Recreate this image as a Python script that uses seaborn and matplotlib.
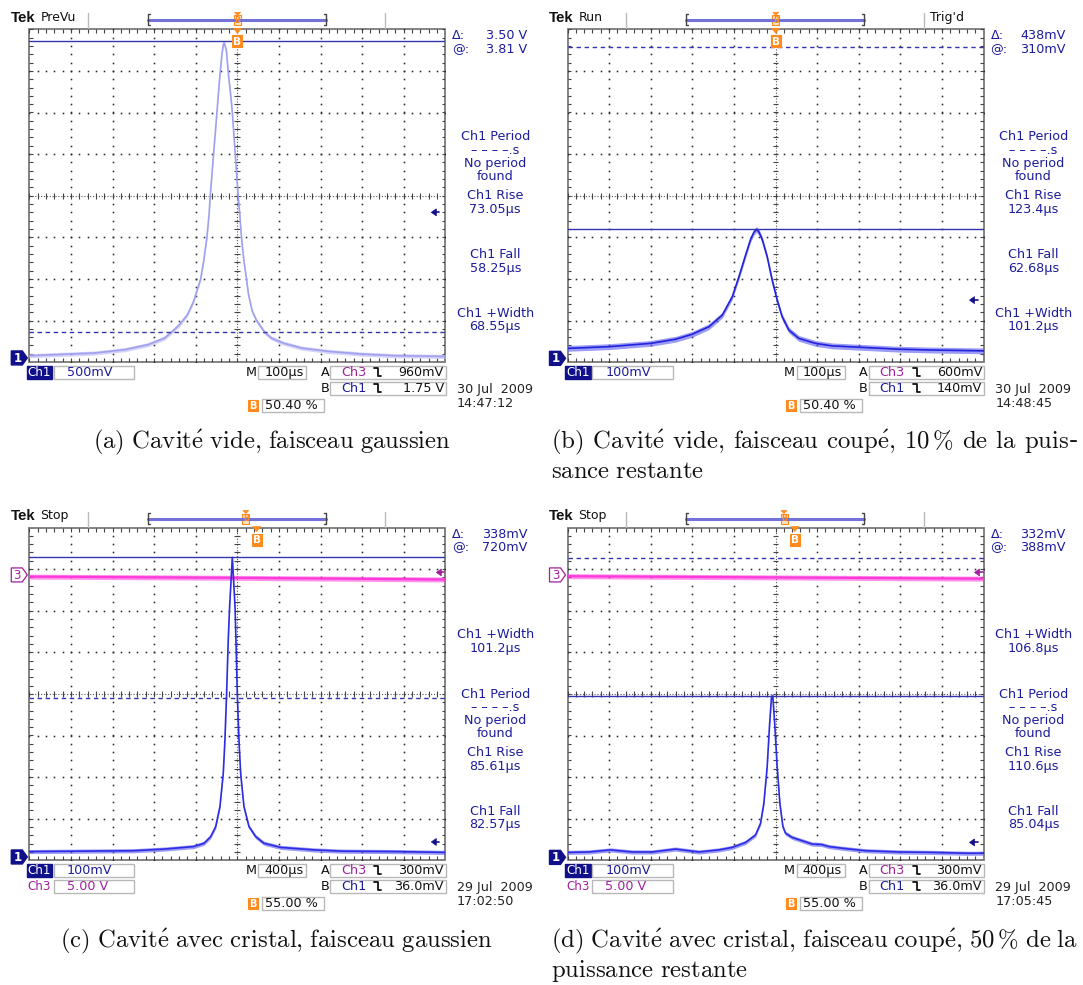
import matplotlib
matplotlib.use("Agg")
import matplotlib.pyplot as plt
import seaborn as sns
import numpy as np
import pandas as pd
from matplotlib.patches import Rectangle, Polygon
from matplotlib.lines import Line2D
from matplotlib.collections import LineCollection

# ---------------------------------------------------------------- data
captions_line1 = ["(a) Cavité vide, faisceau gaussien",
                  "(b) Cavité vide, faisceau coupé, 10\u2009% de la puis-",
                  "(c) Cavité avec cristal, faisceau gaussien",
                  "(d) Cavité avec cristal, faisceau coupé, 50\u2009% de la"]
captions_line2 = ["", "sance restante", "", "puissance restante"]
run_status = ["PreVu", "Run", "Stop", "Stop"]
trig_status = ["", "Trig'd", "", ""]
time_per_div_us = [100, 100, 400, 400]
time_div_labels = ["100µs", "100µs", "400µs", "400µs"]
ch1_mv_per_div = [500, 100, 100, 100]
ch1_div_labels = ["500mV", "100mV", "100mV", "100mV"]
ch1_ground_div = [-3.90, -3.91, -3.92, -3.93]
ch3_div_labels = [None, None, "5.00 V", "5.00 V"]
ch3_v_per_div = 5.0
ch3_ground_div = 2.86
cursor_delta_labels = ["3.50 V", "438mV", "338mV", "332mV"]
cursor_at_labels = ["3.81 V", "310mV", "720mV", "388mV"]
cursor_solid_mv = [3810, 310, 720, 388]
cursor_dashed_mv = [310, 748, 382, 720]
trig_a_labels = ["960mV", "600mV", "300mV", "300mV"]
trig_a_v = [0.96, 0.60, 0.30, 0.30]
trig_b_labels = ["1.75 V", "140mV", "36.0mV", "36.0mV"]
trig_b_mv = [1750, 140, 36, 36]
trig_pos_labels = ["50.40 %", "50.40 %", "55.00 %", "55.00 %"]
trig_pos_frac = [0.504, 0.504, 0.55, 0.55]
date_labels = ["30 Jul  2009", "30 Jul  2009", "29 Jul  2009", "29 Jul  2009"]
time_labels = ["14:47:12", "14:48:45", "17:02:50", "17:05:45"]
PER = ["Ch1 Period", "\u2013 \u2013 \u2013 \u2013.s", "No period", "found"]
measurements = [
    [PER, ["Ch1 Rise", "73.05µs"], ["Ch1 Fall", "58.25µs"], ["Ch1 +Width", "68.55µs"]],
    [PER, ["Ch1 Rise", "123.4µs"], ["Ch1 Fall", "62.68µs"], ["Ch1 +Width", "101.2µs"]],
    [["Ch1 +Width", "101.2µs"], PER, ["Ch1 Rise", "85.61µs"], ["Ch1 Fall", "82.57µs"]],
    [["Ch1 +Width", "106.8µs"], PER, ["Ch1 Rise", "110.6µs"], ["Ch1 Fall", "85.04µs"]],
]

# Ch1 traces: time (µs, relative to screen centre) and voltage (mV)
trace_a_t = [-500, -343, -271, -215, -175, -159, -139, -120, -105, -95, -88, -81, -73, -68, -65,
             -61, -57, -52, -49, -45, -41, -37, -34, -32, -30, -26, -22, -16, -12, -5,
             2, 6, 10, 16, 22, 27, 36, 46, 66, 82, 110, 154, 218, 298, 378, 500]
trace_a_mv = [27, 59, 99, 159, 239, 307, 400, 520, 680, 840, 952, 1161, 1449, 1722, 1950,
              2202, 2451, 2763, 2952, 3204, 3444, 3645, 3757, 3785, 3765, 3685, 3444, 3164, 2952, 2451,
              1950, 1722, 1449, 1161, 952, 760, 560, 452, 307, 239, 179, 119, 79, 47, 27, 18]
trace_b_t = [-500, -401, -300, -240, -200, -160, -128, -104, -88, -72, -60, -52, -46, -40, -32,
             -20, -8, 4, 16, 32, 56, 96, 136, 216, 296, 377, 500]
trace_b_mv = [24, 28, 36, 46, 58, 76, 104, 148, 196, 248, 286, 303, 310, 304, 286,
              244, 188, 140, 100, 68, 48, 36, 30, 26, 22, 20, 18]
trace_c_t = [-2000, -1500, -1000, -700, -420, -320, -256, -208, -167, -135, -119, -103, -87, -74, -48,
             -22, -13, 0, 16, 32, 64, 112, 176, 256, 417, 737, 1000, 1500, 2000]
trace_c_mv = [13, 14, 15, 19, 25, 33, 49, 73, 121, 201, 281, 392, 522, 602, 720,
              602, 522, 392, 281, 201, 121, 73, 49, 33, 23, 17, 14, 13, 11]
trace_d_t = [-2000, -1795, -1587, -1378, -1186, -962, -737, -545, -417, -288, -192, -144, -112, -80,
             -58, -38, -26, -6, 16, 42, 71, 96, 160, 256, 353, 442, 513, 641, 865, 1186, 1506, 1827, 2000]
trace_d_mv = [12, 13, 18, 13, 13, 20, 13, 18, 24, 36, 54, 82, 130, 218,
              315, 387, 388, 315, 218, 130, 74, 58, 48, 40, 32, 31, 26, 22, 16, 13, 12, 10, 10]
# Ch3 traces (V), panels c and d
ch3_t = [-2000, 0, 2000]
ch3_c_v = [-0.20, -0.35, -0.55]
ch3_d_v = [-0.15, -0.30, -0.45]

traces_t = [trace_a_t, trace_b_t, trace_c_t, trace_d_t]
traces_mv = [trace_a_mv, trace_b_mv, trace_c_mv, trace_d_mv]
ch3_traces = [None, None, ch3_c_v, ch3_d_v]

# ---------------------------------------------------------------- style / layout
sns.set_theme(style="white")
plt.rcParams['font.family'] = ['DejaVu Sans']
plt.rcParams['mathtext.fontset'] = 'cm'

W, H = 1083, 985
fig = plt.figure(figsize=(W / 100, H / 100), dpi=100)
fig.patch.set_facecolor('white')

GRID_LEFT = [29.3, 567.5, 29.3, 567.5]
GRID_TOP = [29.3, 29.3, 527.5, 527.5]
DIV = 41.6
GW, GH = 10 * DIV, 8 * DIV

NAVY = '#1c1c9c'
FILLNAVY = '#10108a'
MAG_TXT = '#a0209c'
MAG = '#ff38dc'
ORANGE = '#ff8a1e'
CURSOR = '#3434ae'
BOXEDGE = '#b8b8b8'
trace_core = ['#a0a0ee', '#2222dc', '#2c2ce4', '#2c2ce4']
trace_band = ['#b8b8f6', '#5a5af0', '#5a5aee', '#5a5aee']
trace_halfband = [0.05, 0.07, 0.05, 0.05]  # divisions
TFS = 9.2


def px_text(x, y, s, **kw):
    kw.setdefault('va', 'center')
    return fig.text(x / W, 1 - y / H, s, **kw)


def px_rect(x0, y0, x1, y1, **kw):
    fig.add_artist(Rectangle((x0 / W, 1 - y1 / H), (x1 - x0) / W, (y1 - y0) / H,
                             transform=fig.transFigure, **kw))


def px_poly(pts, **kw):
    fig.add_artist(Polygon([(x / W, 1 - y / H) for x, y in pts], closed=True,
                           transform=fig.transFigure, **kw))


def px_line(xs, ys, **kw):
    fig.add_artist(Line2D([x / W for x in xs], [1 - y / H for y in ys],
                          transform=fig.transFigure, **kw))


def draw_grid(ax):
    ax.set_xlim(-5, 5)
    ax.set_ylim(-4, 4)
    ax.axis('off')
    ys = np.arange(-4, 4.001, 0.2)
    xs = np.arange(-5, 5.001, 0.2)
    for k in range(-4, 5):
        if k != 0:
            ax.plot([k] * len(ys), ys, ls='none', marker='s', ms=1.15, mew=0, color='#2a2a2a')
    for j in range(-3, 4):
        if j != 0:
            ax.plot(xs, [j] * len(xs), ls='none', marker='s', ms=1.15, mew=0, color='#2a2a2a')
    ax.plot([-5, 5], [0, 0], ls=(0, (1, 1.6)), lw=0.8, color='#555555')
    ax.plot([0, 0], [-4, 4], ls=(0, (1, 1.6)), lw=0.8, color='#555555')
    segs = [[(x, -0.07), (x, 0.07)] for x in xs] + [[(-0.07, y), (0.07, y)] for y in ys]
    segs += [[(x, -4), (x, -3.9)] for x in xs] + [[(x, 4), (x, 3.9)] for x in xs]
    segs += [[(-5, y), (-4.92, y)] for y in ys] + [[(5, y), (4.92, y)] for y in ys]
    ax.add_collection(LineCollection(segs, colors='#444444', linewidths=0.8))
    ax.add_patch(Rectangle((-5, -4), 10, 8, fill=False, ec='#7a7a7a', lw=1.3, clip_on=False))


def slope_icon(x, y):
    px_line([x, x + 4, x + 4, x + 7], [y - 4, y - 4, y + 4, y + 4], color='#111111', lw=1.3)


def orange_b(xc, yc, w=9, h=12, fs=7.5):
    px_rect(xc - w / 2, yc - h / 2, xc + w / 2, yc + h / 2, fc=ORANGE, ec=ORANGE, lw=0.8)
    px_text(xc, yc + 0.5, "B", ha='center', color='white', fontsize=fs, fontweight='bold')


for i in range(4):
    gl, gt = GRID_LEFT[i], GRID_TOP[i]
    gr, gb = gl + GW, gt + GH
    rect = [gl / W, 1 - gb / H, GW / W, GH / H]
    td, vd, g = time_per_div_us[i], ch1_mv_per_div[i], ch1_ground_div[i]

    axg = fig.add_axes(rect, label=f"grid{i}")
    draw_grid(axg)

    if ch3_traces[i] is not None:
        ax3 = fig.add_axes(rect, label=f"ch3_{i}")
        ax3.patch.set_alpha(0)
        df3 = pd.DataFrame({"t": ch3_t, "v": ch3_traces[i]})
        ax3.fill_between(df3["t"], df3["v"] - 0.3, df3["v"] + 0.3, color=MAG, alpha=0.55, lw=0)
        sns.lineplot(data=df3, x="t", y="v", ax=ax3, color=MAG, lw=1.6,
                     estimator=None, sort=False, legend=False)
        ax3.set_xlim(-5 * td, 5 * td)
        ax3.set_ylim((-4 - ch3_ground_div) * ch3_v_per_div, (4 - ch3_ground_div) * ch3_v_per_div)
        ax3.axis('off')

    ax = fig.add_axes(rect, label=f"ch1_{i}")
    ax.patch.set_alpha(0)
    df = pd.DataFrame({"t": traces_t[i], "mv": traces_mv[i]})
    hb = trace_halfband[i] * vd
    ax.fill_between(df["t"], df["mv"] - hb, df["mv"] + hb, color=trace_band[i], alpha=0.6, lw=0)
    sns.lineplot(data=df, x="t", y="mv", ax=ax, color=trace_core[i], lw=1.2,
                 estimator=None, sort=False, legend=False)
    ax.axhline(cursor_solid_mv[i], color=CURSOR, lw=1.0)
    ax.axhline(cursor_dashed_mv[i], color=CURSOR, lw=1.0, ls=(0, (3.2, 2.6)))
    ax.set_xlim(-5 * td, 5 * td)
    ax.set_ylim((-4 - g) * vd, (4 - g) * vd)
    ax.axis('off')

    def y_of_mv(mv):
        return gt + (4 - (mv / vd + g)) * DIV

    yg = y_of_mv(0)
    px_poly([(gl - 18, yg - 7), (gl - 7, yg - 7), (gl - 2, yg), (gl - 7, yg + 7), (gl - 18, yg + 7)],
            fc=FILLNAVY, ec=FILLNAVY)
    px_text(gl - 12, yg + 0.5, "1", ha='center', color='white', fontsize=8.5, fontweight='bold')
    if ch3_traces[i] is not None:
        y3 = gt + (4 - ch3_ground_div) * DIV
        px_poly([(gl - 18, y3 - 7), (gl - 7, y3 - 7), (gl - 2, y3), (gl - 7, y3 + 7), (gl - 18, y3 + 7)],
                fc='white', ec=MAG_TXT, lw=0.9)
        px_text(gl - 12, y3 + 0.5, "3", ha='center', color=MAG_TXT, fontsize=8.5)
        ya = gt + (4 - (trig_a_v[i] / ch3_v_per_div + ch3_ground_div)) * DIV
        px_poly([(gr - 9, ya), (gr - 4, ya - 3.5), (gr - 4, ya + 3.5)], fc=MAG_TXT, ec=MAG_TXT, lw=0.5)
        px_line([gr - 5, gr - 1], [ya, ya], color=MAG_TXT, lw=1.2)

    yb = y_of_mv(trig_b_mv[i])
    px_poly([(gr - 14, yb), (gr - 9, yb - 3.5), (gr - 9, yb + 3.5)], fc=FILLNAVY, ec=FILLNAVY, lw=0.5)
    px_line([gr - 10, gr - 6], [yb, yb], color=FILLNAVY, lw=1.2)

    xb = gl + trig_pos_frac[i] * GW - 1.5
    px_poly([(xb - 4, gt - 1), (xb + 4, gt - 1), (xb, gt + 4)], fc=ORANGE, ec=ORANGE, lw=0.5)
    orange_b(xb, gt + 12, w=10, h=12)

    px_text(gl - 18.5, gt - 11, "Tek", ha='left', fontsize=10.8, fontweight='bold',
            family=['Liberation Sans'], color='#111111')
    px_text(gl + 11, gt - 11.5, run_status[i], ha='left', fontsize=9, color='#111111')
    px_line([gl + 58.7, gl + 58.7], [gt - 16, gt - 1], color='#bbbbbb', lw=1)
    px_line([gl + 356, gl + 356], [gt - 16, gt - 1], color='#bbbbbb', lw=1)
    bl, br = gl + 118.5, gl + 296.7
    px_line([bl, br], [gt - 9, gt - 9], color='#7272d8', lw=2.2)
    px_line([bl + 2, bl, bl, bl + 2], [gt - 15, gt - 15, gt - 4, gt - 4], color='#444444', lw=1)
    px_line([br - 2, br, br, br - 2], [gt - 15, gt - 15, gt - 4, gt - 4], color='#444444', lw=1)
    xm = bl + trig_pos_frac[i] * (br - bl)
    px_poly([(xm - 3, gt - 17), (xm + 3, gt - 17), (xm, gt - 14)], fc=ORANGE, ec=ORANGE, lw=0.5)
    px_rect(xm - 3.5, gt - 14, xm + 3.5, gt - 4, fc='#ffe2c0', ec=ORANGE, lw=0.8)
    px_text(xm, gt - 8.6, "B", ha='center', color=ORANGE, fontsize=5.5, fontweight='bold')
    if trig_status[i]:
        px_text(gl + 362, gt - 11.5, trig_status[i], ha='left', fontsize=9, color='#111111')

    px_text(gr + 7, gt + 6.5, "Δ:", ha='left', fontsize=TFS, color=NAVY)
    px_text(gr + 82, gt + 6.5, cursor_delta_labels[i], ha='right', fontsize=TFS, color=NAVY)
    px_text(gr + 7, gt + 20, "@:", ha='left', fontsize=TFS, color=NAVY)
    px_text(gr + 82, gt + 20, cursor_at_labels[i], ha='right', fontsize=TFS, color=NAVY)

    slots = [107.5, 166.5, 225.5, 284.0]
    for s, block in zip(slots, measurements[i]):
        for li, line in enumerate(block):
            px_text(gr + 50, gt + s + li * 13.3, line, ha='center', fontsize=TFS, color=NAVY)

    r1, r2, r3 = gb + 10, gb + 26, gb + 43
    px_rect(gl - 2.4, r1 - 6.5, gl + 23, r1 + 6.5, fc=FILLNAVY, ec=FILLNAVY)
    px_text(gl + 10.3, r1 + 0.3, "Ch1", ha='center', fontsize=8.6, color='white')
    px_rect(gl + 24.5, r1 - 6.5, gl + 105, r1 + 6.5, fc='white', ec=BOXEDGE, lw=1)
    px_text(gl + 37.7, r1 + 0.3, ch1_div_labels[i], ha='left', fontsize=TFS, color=NAVY)
    if ch3_div_labels[i] is not None:
        px_text(gl - 1.5, r2 + 0.3, "Ch3", ha='left', fontsize=8.6, color=MAG_TXT)
        px_rect(gl + 24.5, r2 - 6.5, gl + 105, r2 + 6.5, fc='white', ec=BOXEDGE, lw=1)
        px_text(gl + 37.7, r2 + 0.3, ch3_div_labels[i], ha='left', fontsize=TFS, color=MAG_TXT)
    px_text(gl + 222, r1 + 0.3, "M", ha='center', fontsize=TFS, color='#111111')
    px_rect(gl + 229, r1 - 6.5, gl + 277, r1 + 6.5, fc='white', ec=BOXEDGE, lw=1)
    px_text(gl + 235, r1 + 0.3, time_div_labels[i], ha='left', fontsize=TFS, color='#111111')
    for row, lab, ch, chc, val in [(r1, "A", "Ch3", MAG_TXT, trig_a_labels[i]),
                                   (r2, "B", "Ch1", NAVY, trig_b_labels[i])]:
        px_text(gl + 295.5, row + 0.3, lab, ha='center', fontsize=TFS, color='#111111')
        px_rect(gl + 301, row - 6.5, gl + 416.7, row + 6.5, fc='white', ec=BOXEDGE, lw=1)
        px_text(gl + 311.7, row + 0.3, ch, ha='left', fontsize=TFS, color=chc)
        slope_icon(gl + 345, row)
        px_text(gl + 414.5, row + 0.3, val, ha='right', fontsize=TFS, color='#111111')
    orange_b(gl + 223.5, r3, w=9.5, h=11, fs=7)
    px_rect(gl + 232.4, r3 - 6.5, gl + 294.4, r3 + 6.5, fc='white', ec=BOXEDGE, lw=1)
    px_text(gl + 235.5, r3 + 0.3, trig_pos_labels[i], ha='left', fontsize=TFS, color='#111111')
    px_text(gl + 427.7, gb + 27, date_labels[i], ha='left', fontsize=TFS, color='#222222')
    px_text(gl + 427.7, gb + 41, time_labels[i], ha='left', fontsize=TFS, color='#222222')

# ---------------------------------------------------------------- captions (Computer Modern via mathtext)
CAP_FS = 17.8
CAP = dict(fontsize=CAP_FS, color='#111111', va='baseline')
EM_UNIT = 0.88 * CAP_FS * 100 / 72  # approx width of mathtext space unit in px
renderer = fig.canvas.get_renderer()


def esc(s):
    return (s.replace("%", r"\%").replace("é", r"\acute{e}")
             .replace(",", "{,}").replace("\u2009", r"\,"))


def build(words, sep):
    hyphen = words[-1].endswith("-")
    ws = list(words)
    if hyphen:
        ws[-1] = ws[-1][:-1]
    s = r"$\mathrm{" + sep.join(esc(w) for w in ws) + "}$"
    return s + ("-" if hyphen else "")


def plain(text):
    return build(text.split(' '), r"\ ")


def justify(text, x0, x1, y):
    words = text.split(' ')
    t = px_text(x0, y, plain(text), ha='left', **CAP)
    try:
        gap = 0.38
        t.set_text(build(words, r"\hspace{%.4f}" % gap))
        for _ in range(4):
            w = t.get_window_extent(renderer=renderer).width
            gap += (x1 - x0 - w) / (len(words) - 1) / EM_UNIT
            t.set_text(build(words, r"\hspace{%.4f}" % gap))
        t.get_window_extent(renderer=renderer)
    except Exception:
        t.set_text(plain(text))


px_text(272, 448, plain(captions_line1[0]), ha='center', **CAP)
px_text(276, 947.5, plain(captions_line1[2]), ha='center', **CAP)
justify(captions_line1[1], 551, 1078, 448)
px_text(551, 478, plain(captions_line2[1]), ha='left', **CAP)
justify(captions_line1[3], 551, 1078, 947.5)
px_text(551, 976.5, plain(captions_line2[3]), ha='left', **CAP)

fig.savefig("out.png", dpi=100, facecolor='white')
